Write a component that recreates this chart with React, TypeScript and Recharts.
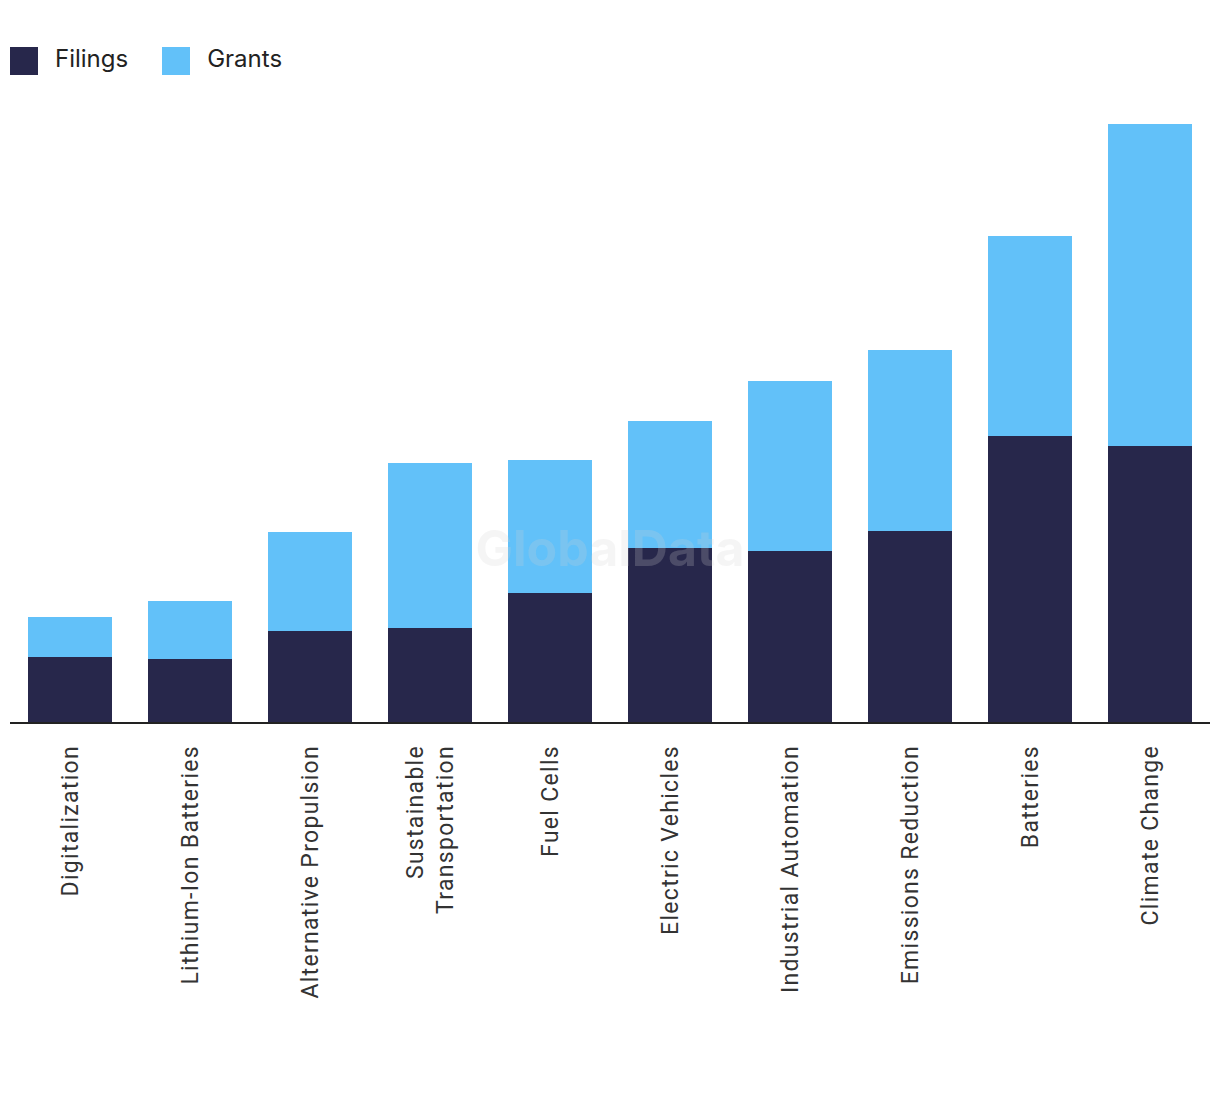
import { BarChart, Bar, XAxis, YAxis } from "recharts";

const categories = [
  "Digitalization",
  "Lithium-Ion Batteries",
  "Alternative Propulsion",
  "Sustainable Transportation",
  "Fuel Cells",
  "Electric Vehicles",
  "Industrial Automation",
  "Emissions Reduction",
  "Batteries",
  "Climate Change",
];
const filings = [66, 64, 92, 95, 130, 175, 172, 192, 287, 277];
const grants = [40, 58, 99, 165, 133, 127, 170, 181, 200, 322];

// label lines for wrapped ticks
const tickLines: Record<string, string[]> = {
  "Sustainable Transportation": ["Sustainable", "Transportation"],
};

const FILINGS = "#27274b";
const GRANTS = "#62c1f9";

const data = categories.map((name, i) => ({
  name,
  filings: filings[i],
  grants: grants[i],
}));

function CategoryTick(props: any) {
  const { x, y, payload } = props;
  const lines = tickLines[payload.value] || [payload.value];
  const step = 30;
  const start = -((lines.length - 1) * step) / 2;
  return (
    <g transform={`translate(${x},${y + 14}) rotate(-90)`}>
      {lines.map((line: string, i: number) => (
        <text
          key={line}
          x={0}
          y={start + i * step}
          dy="0.35em"
          textAnchor="end"
          fontSize={23}
          letterSpacing={1.3}
          fill="#333"
          fontFamily="Roboto, 'Liberation Sans', sans-serif"
        >
          {line}
        </text>
      ))}
    </g>
  );
}

function LegendItem({ color, label }: { color: string; label: string }) {
  return (
    <div style={{ display: "flex", alignItems: "center", marginRight: 34 }}>
      <div style={{ width: 28, height: 28, background: color, marginRight: 17 }} />
      <span style={{ fontSize: 24, color: "#222", position: "relative", top: -2 }}>
        {label}
      </span>
    </div>
  );
}

export default function App() {
  return (
    <div
      style={{
        position: "relative",
        width: 1212,
        height: 1086,
        fontFamily: "Inter, Roboto, sans-serif",
      }}
    >
      <div
        style={{
          position: "absolute",
          left: 2,
          top: 38,
          display: "flex",
        }}
      >
        <LegendItem color={FILINGS} label="Filings" />
        <LegendItem color={GRANTS} label="Grants" />
      </div>
      <BarChart
        width={1212}
        height={1086}
        data={data}
        margin={{ top: 115, right: 10, bottom: 8, left: 2 }}
        barCategoryGap="15%"
      >
        <YAxis hide domain={[0, 600]} />
        <XAxis
          dataKey="name"
          interval={0}
          tick={<CategoryTick />}
          tickLine={false}
          axisLine={{ stroke: "#222", strokeWidth: 2 }}
          height={363}
        />
        <Bar dataKey="filings" stackId="a" fill={FILINGS} isAnimationActive={false} />
        <Bar dataKey="grants" stackId="a" fill={GRANTS} isAnimationActive={false} />
      </BarChart>
      <div
        style={{
          position: "absolute",
          left: 0,
          width: 1204,
          top: 510,
          textAlign: "center",
          fontSize: 50,
          fontWeight: 700,
          color: "rgba(210,210,210,0.22)",
          pointerEvents: "none",
          lineHeight: "60px",
        }}
      >
        GlobalData
      </div>
    </div>
  );
}
